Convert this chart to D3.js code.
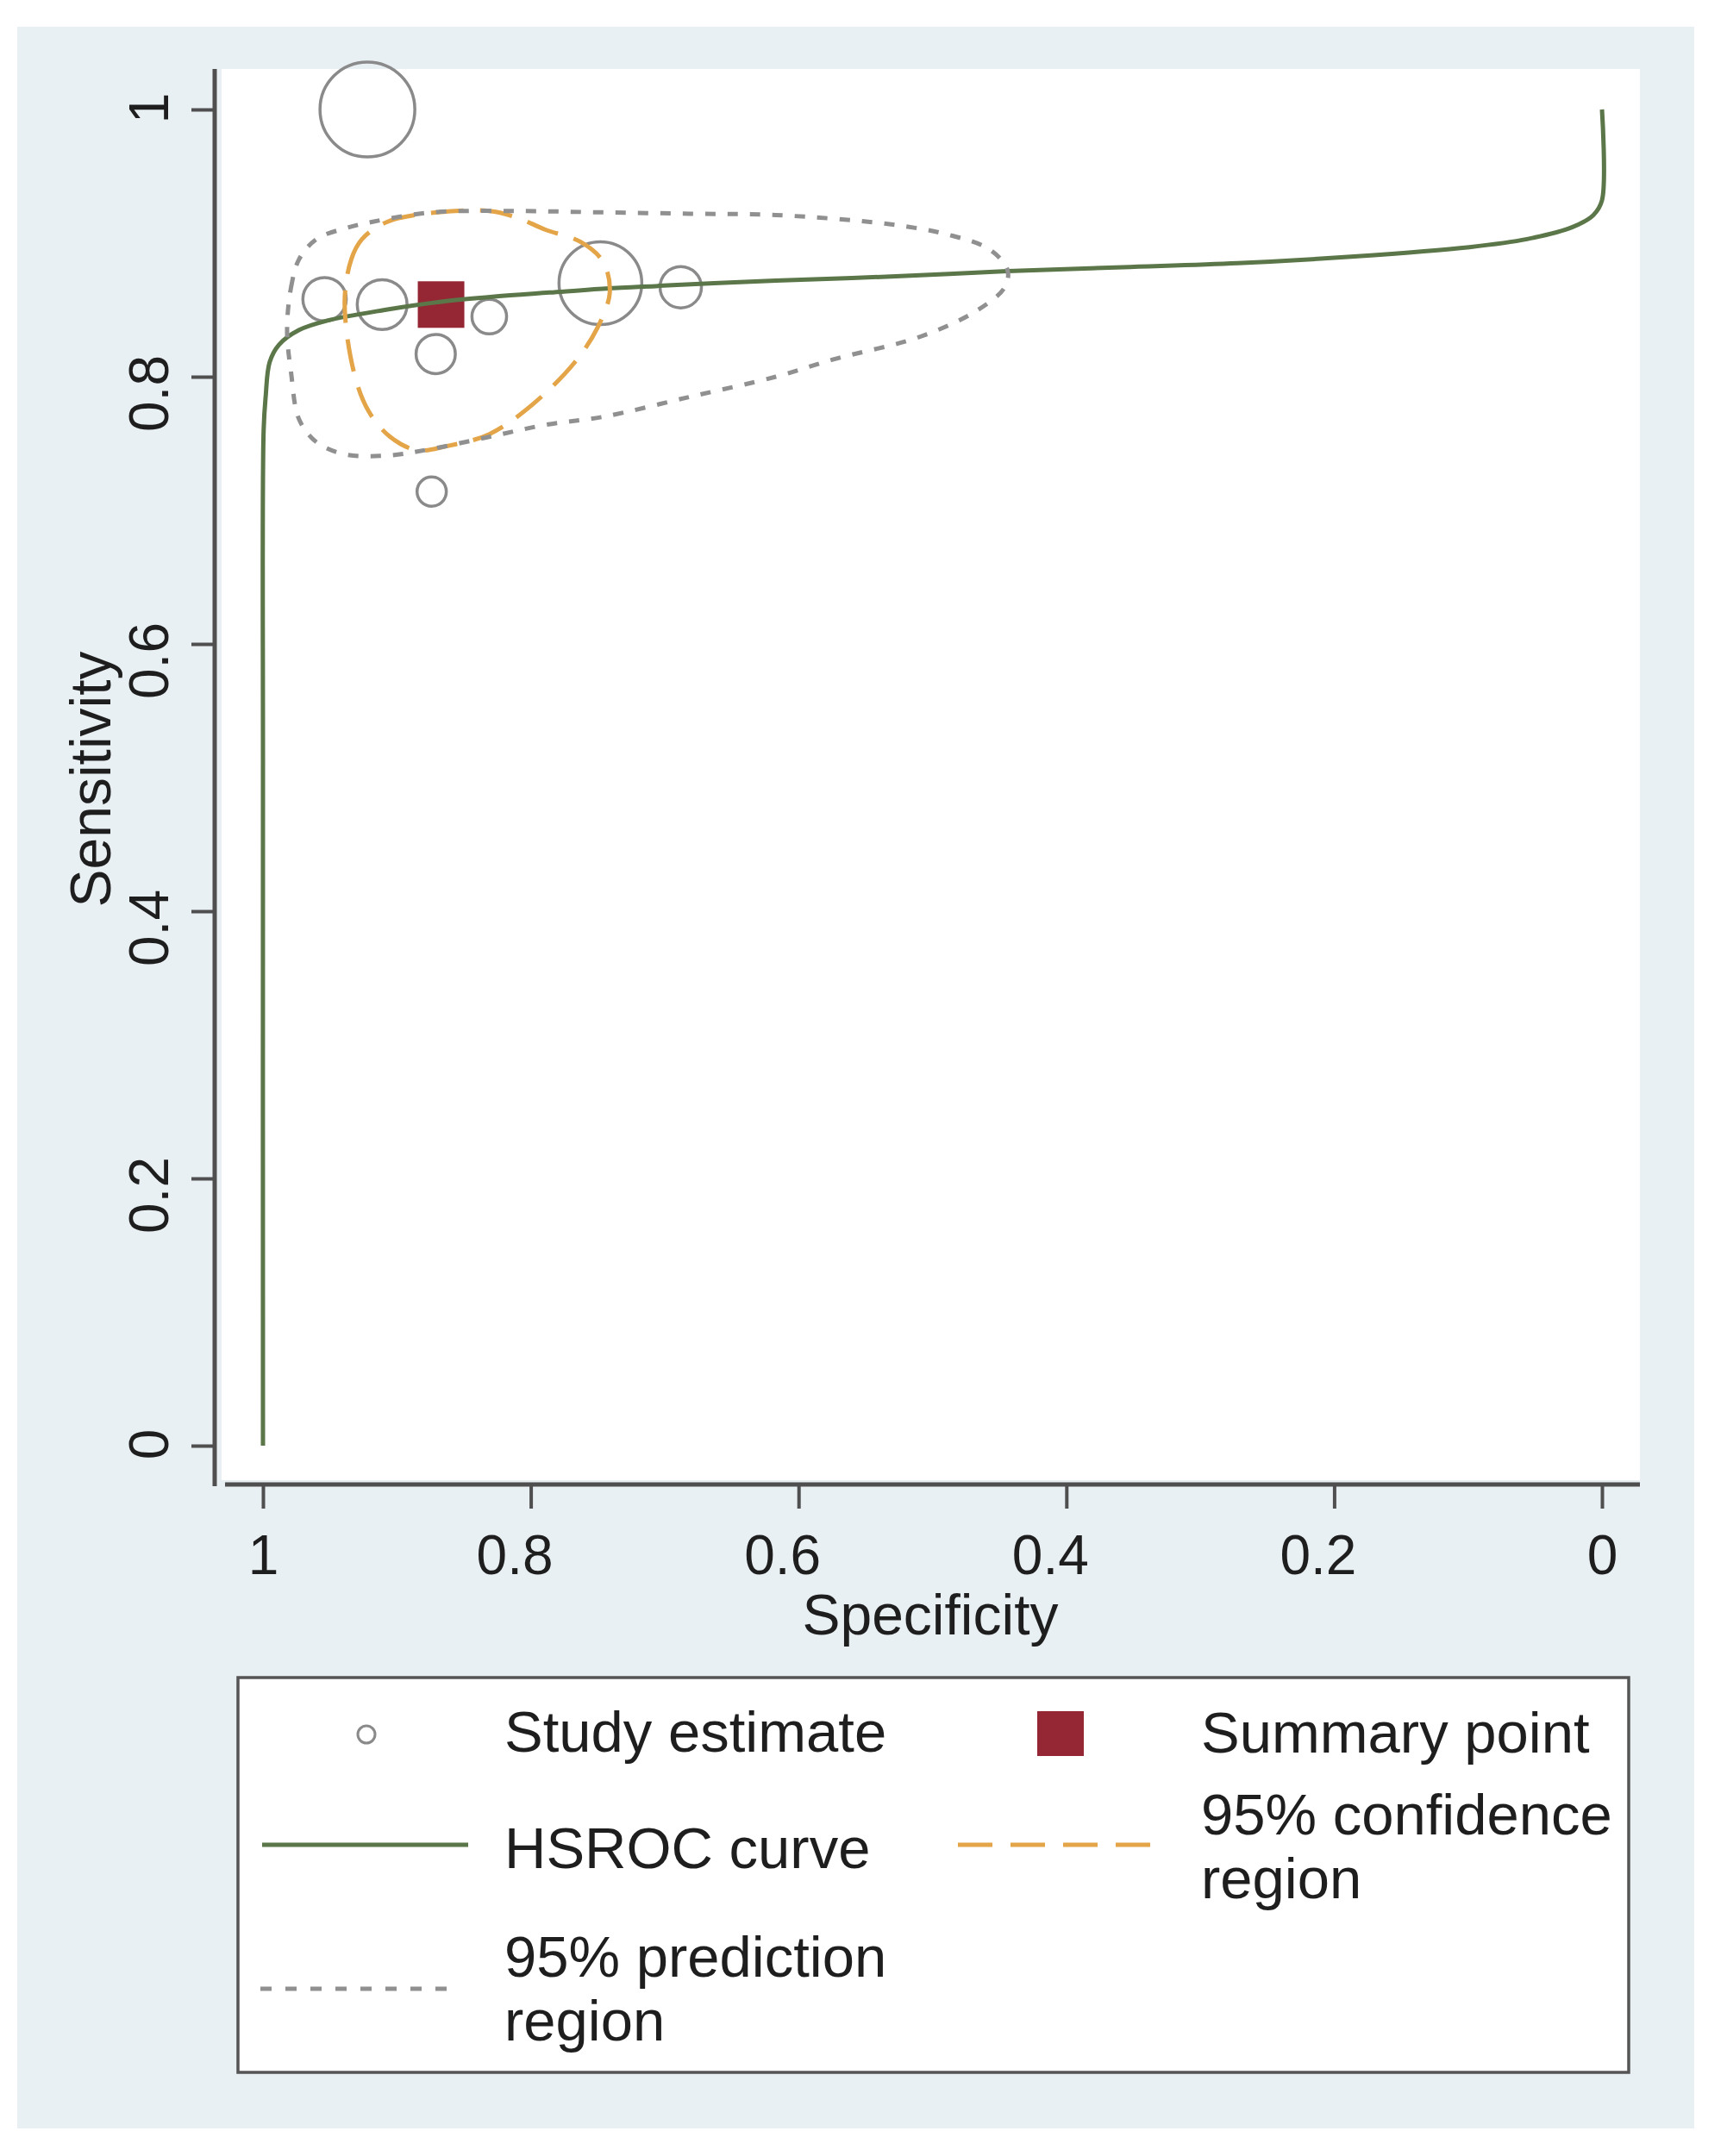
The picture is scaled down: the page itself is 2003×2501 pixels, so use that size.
<!DOCTYPE html>
<html>
<head>
<meta charset="utf-8">
<script src="https://cdn.jsdelivr.net/npm/d3@7"></script>
<style>
  html, body { margin: 0; padding: 0; background: #ffffff; }
  svg { display: block; }
  text { font-family: "Liberation Sans", Arial, Helvetica, sans-serif; fill: #1e1e1e; }
</style>
</head>
<body>
<script>
// ---------------- DATA ----------------
const tickValues = [0, 0.2, 0.4, 0.6, 0.8, 1];

// Study estimates: specificity, sensitivity, relative weight (bubble size)
const studySpec   = [0.922, 0.954, 0.911, 0.831, 0.871, 0.874, 0.748, 0.688];
const studySens   = [1.000, 0.858, 0.854, 0.845, 0.817, 0.714, 0.870, 0.867];
const studyWeight = [105, 22, 29, 14, 18, 10, 80, 20];

// Summary point
const summarySpec = 0.867;
const summarySens = 0.854;

// HSROC curve (specificity, sensitivity)
const hsrocSpec = [1.000, 1.000, 0.9995, 0.998, 0.995, 0.988, 0.973, 0.952, 0.909, 0.868, 0.827, 0.786, 0.744, 0.704, 0.663, 0.617, 0.531, 0.444, 0.358, 0.272, 0.185, 0.099, 0.056, 0.022, 0.0064, 0.000, 0.000];
const hsrocSens = [0.000, 0.500, 0.760, 0.785, 0.811, 0.824, 0.835, 0.842, 0.850, 0.856, 0.860, 0.863, 0.866, 0.868, 0.870, 0.872, 0.875, 0.879, 0.882, 0.885, 0.890, 0.897, 0.903, 0.912, 0.921, 0.932, 1.000];

// 95% confidence region outline
const confSpec = [0.939, 0.934, 0.926, 0.907, 0.870, 0.831, 0.810, 0.789, 0.763, 0.746, 0.741, 0.750, 0.767, 0.799, 0.831, 0.863, 0.885, 0.905, 0.921, 0.932];
const confSens = [0.856, 0.888, 0.903, 0.916, 0.923, 0.924, 0.919, 0.910, 0.901, 0.886, 0.863, 0.837, 0.811, 0.779, 0.757, 0.748, 0.745, 0.755, 0.774, 0.803];

// 95% prediction region outline
const predSpec = [0.982, 0.979, 0.973, 0.960, 0.939, 0.918, 0.874, 0.810, 0.746, 0.681, 0.617, 0.531, 0.487, 0.457, 0.444, 0.446, 0.466, 0.509, 0.574, 0.617, 0.681, 0.746, 0.789, 0.831, 0.874, 0.907, 0.939, 0.960, 0.973, 0.979];
const predSens = [0.835, 0.867, 0.888, 0.903, 0.911, 0.916, 0.923, 0.924, 0.923, 0.922, 0.921, 0.914, 0.906, 0.895, 0.880, 0.867, 0.850, 0.830, 0.813, 0.800, 0.785, 0.770, 0.764, 0.755, 0.746, 0.741, 0.742, 0.751, 0.768, 0.803];

const xTitle = "Specificity";
const yTitle = "Sensitivity";
const legendLabels = ["Study estimate", "Summary point", "HSROC curve", "95% confidence\nregion", "95% prediction\nregion"];

// ---------------- LAYOUT / STYLE ----------------
const W = 2003, H = 2501;
const C = {
  panel: "#e9f0f3",
  axis: "#4f4f4f",
  circle: "#8a8a8a",
  square: "#952634",
  curve: "#5b7648",
  conf: "#e4a548",
  pred: "#909090"
};

const svg = d3.select("body").append("svg")
  .attr("width", W).attr("height", H)
  .attr("viewBox", `0 0 ${W} ${H}`);

// outer graph region
svg.append("rect").attr("x", 20).attr("y", 31).attr("width", 1945).attr("height", 2438).attr("fill", C.panel);
// plot region
svg.append("rect").attr("x", 257).attr("y", 80).attr("width", 1645).attr("height", 1637).attr("fill", "#ffffff");

const x = d3.scaleLinear().domain([1, 0]).range([305, 1858]);
const y = d3.scaleLinear().domain([0, 1]).range([1677, 127]);
const r = d3.scaleSqrt().domain([0, d3.max(studyWeight)]).range([0, 55]);

const fmt = d3.format("~g");

// ---------------- AXES ----------------
const yAxisG = svg.append("g").attr("transform", "translate(249,0)")
  .call(d3.axisLeft(y).tickValues(tickValues).tickSize(27).tickPadding(0).tickFormat(fmt));
yAxisG.select(".domain").remove();
yAxisG.selectAll(".tick line").attr("stroke", C.axis).attr("stroke-width", 4);
yAxisG.selectAll(".tick text")
  .attr("transform", "rotate(-90)")
  .attr("text-anchor", "middle")
  .attr("x", d => fmt(d).length > 1 ? -19 : 2)
  .attr("y", -54)
  .attr("dy", 0)
  .attr("font-size", 64)
  .style("font-family", '"Liberation Sans", Arial, sans-serif')
  .attr("fill", "#1e1e1e");
svg.append("line").attr("x1", 249).attr("x2", 249).attr("y1", 80).attr("y2", 1724)
  .attr("stroke", C.axis).attr("stroke-width", 5);

const xAxisG = svg.append("g").attr("transform", "translate(0,1722)")
  .call(d3.axisBottom(x).tickValues(tickValues).tickSize(28).tickPadding(0).tickFormat(fmt));
xAxisG.select(".domain").remove();
xAxisG.selectAll(".tick line").attr("stroke", C.axis).attr("stroke-width", 4);
xAxisG.selectAll(".tick text")
  .attr("text-anchor", "middle")
  .attr("x", d => fmt(d).length > 1 ? -19 : 0)
  .attr("y", 104)
  .attr("dy", 0)
  .attr("font-size", 64)
  .style("font-family", '"Liberation Sans", Arial, sans-serif')
  .attr("fill", "#1e1e1e");
svg.append("line").attr("x1", 261).attr("x2", 1902).attr("y1", 1722).attr("y2", 1722)
  .attr("stroke", C.axis).attr("stroke-width", 5);

// axis titles
svg.append("text").attr("x", 1079).attr("y", 1896).attr("text-anchor", "middle")
  .attr("font-size", 66).text(xTitle);
svg.append("text").attr("transform", "translate(128,904) rotate(-90)").attr("text-anchor", "middle")
  .attr("font-size", 66).text(yTitle);

// ---------------- MARKS ----------------
const plot = svg.append("g");

// study estimates
const studies = studySpec.map((s, i) => ({ spec: s, sens: studySens[i], w: studyWeight[i] }));
plot.selectAll("circle.study").data(studies).enter().append("circle")
  .attr("class", "study")
  .attr("cx", d => x(d.spec)).attr("cy", d => y(d.sens)).attr("r", d => r(d.w))
  .attr("fill", "none").attr("stroke", C.circle).attr("stroke-width", 3.5);

// summary point
const sq = 54;
plot.append("rect")
  .attr("x", x(summarySpec) - sq / 2).attr("y", y(summarySens) - sq / 2)
  .attr("width", sq).attr("height", sq).attr("fill", C.square);

// HSROC curve
const hsroc = hsrocSpec.map((s, i) => [s, hsrocSens[i]]);
const lineGen = d3.line().x(d => x(d[0])).y(d => y(d[1])).curve(d3.curveCatmullRom.alpha(0.5));
plot.append("path").attr("d", lineGen(hsroc))
  .attr("fill", "none").attr("stroke", C.curve).attr("stroke-width", 5);

// confidence region
const conf = confSpec.map((s, i) => [s, confSens[i]]);
const closedGen = d3.line().x(d => x(d[0])).y(d => y(d[1])).curve(d3.curveCatmullRomClosed.alpha(0.5));
plot.append("path").attr("d", closedGen(conf))
  .attr("fill", "none").attr("stroke", C.conf).attr("stroke-width", 5)
  .attr("stroke-dasharray", "38,19");

// prediction region
const pred = predSpec.map((s, i) => [s, predSens[i]]);
plot.append("path").attr("d", closedGen(pred))
  .attr("fill", "none").attr("stroke", C.pred).attr("stroke-width", 5)
  .attr("stroke-dasharray", "12,14");

// ---------------- LEGEND ----------------
const lg = svg.append("g");
lg.append("rect").attr("x", 276).attr("y", 1946).attr("width", 1613).attr("height", 458)
  .attr("fill", "#ffffff").attr("stroke", "#555555").attr("stroke-width", 3.5);

// keys
lg.append("circle").attr("cx", 425).attr("cy", 2012).attr("r", 10)
  .attr("fill", "none").attr("stroke", C.circle).attr("stroke-width", 3);
lg.append("rect").attr("x", 1203).attr("y", 1985).attr("width", 54).attr("height", 52).attr("fill", C.square);
lg.append("line").attr("x1", 304).attr("x2", 543).attr("y1", 2140).attr("y2", 2140)
  .attr("stroke", C.curve).attr("stroke-width", 5);
lg.append("line").attr("x1", 1111).attr("x2", 1335).attr("y1", 2140).attr("y2", 2140)
  .attr("stroke", C.conf).attr("stroke-width", 5).attr("stroke-dasharray", "40,21");
lg.append("line").attr("x1", 302).attr("x2", 532).attr("y1", 2307).attr("y2", 2307)
  .attr("stroke", C.pred).attr("stroke-width", 5).attr("stroke-dasharray", "13,16");

// labels
const labelPos = [
  { x: 585, y: [2032] },
  { x: 1393, y: [2033] },
  { x: 585, y: [2167] },
  { x: 1393, y: [2128, 2202] },
  { x: 585, y: [2293, 2367] }
];
legendLabels.forEach((lab, i) => {
  const lines = lab.split("\n");
  const t = lg.append("text").attr("font-size", 67);
  lines.forEach((ln, j) => {
    t.append("tspan").attr("x", labelPos[i].x).attr("y", labelPos[i].y[j]).text(ln);
  });
});
</script>
</body>
</html>
